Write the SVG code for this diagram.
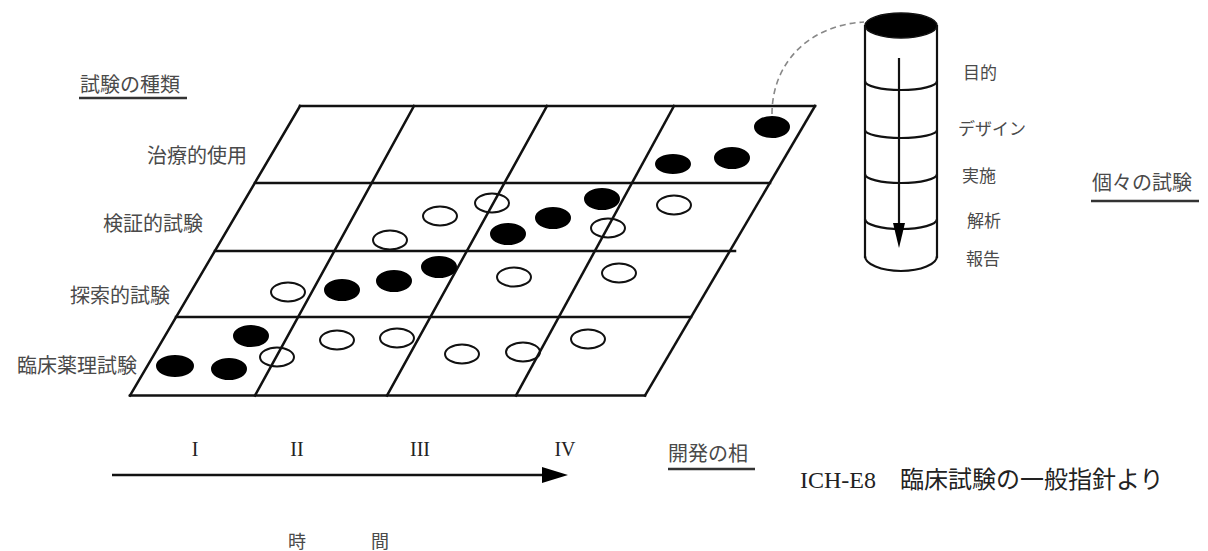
<svg xmlns="http://www.w3.org/2000/svg" width="1208" height="551" viewBox="0 0 1208 551">
<defs>
<style>
.jp{font-family:"Noto Sans CJK JP","Noto Sans CJK SC",sans-serif;fill:#4a4a4a;}
.lbl{font-size:20px;}
.small{font-size:17px;}
.ser{font-family:"Liberation Serif",serif;fill:#222;}
.grid{stroke:#111;stroke-width:2.5;fill:none;stroke-linecap:square;}
.ul{stroke:#333;stroke-width:2.5;}
.f{fill:#000;stroke:#000;stroke-width:2;}
.o{fill:none;stroke:#111;stroke-width:2;}
.cyl{stroke:#111;stroke-width:2.2;fill:none;}
</style>
</defs>
<rect width="1208" height="551" fill="#fff"/>

<g id="grid">
<line class="grid" x1="300" y1="106" x2="815" y2="106"/>
<line class="grid" x1="255" y1="183" x2="770" y2="183"/>
<line class="grid" x1="215" y1="251" x2="735" y2="251"/>
<line class="grid" x1="176" y1="317" x2="691" y2="317"/>
<line class="grid" x1="130" y1="395.5" x2="645" y2="395.5"/>
<line class="grid" x1="300" y1="106" x2="130" y2="395.5"/>
<line class="grid" x1="414" y1="106" x2="255" y2="395.5"/>
<line class="grid" x1="547" y1="106" x2="387" y2="395.5"/>
<line class="grid" x1="674" y1="106" x2="516" y2="395.5"/>
<line class="grid" x1="815" y1="106" x2="645" y2="395.5"/>
</g>

<g id="trials">
<ellipse class="f" cx="772" cy="127" rx="17" ry="10"/>
<ellipse class="f" cx="732" cy="158" rx="17" ry="10"/>
<ellipse class="f" cx="673" cy="164" rx="17" ry="9"/>
<ellipse class="f" cx="508" cy="234" rx="17" ry="10"/>
<ellipse class="f" cx="553" cy="218" rx="17" ry="10"/>
<ellipse class="f" cx="602" cy="199" rx="17" ry="10"/>
<ellipse class="f" cx="342" cy="290" rx="17" ry="10"/>
<ellipse class="f" cx="394" cy="281" rx="17" ry="10"/>
<ellipse class="f" cx="439" cy="267" rx="17" ry="10"/>
<ellipse class="f" cx="175" cy="366" rx="18" ry="10"/>
<ellipse class="f" cx="229" cy="369" rx="17" ry="10"/>
<ellipse class="f" cx="251" cy="336" rx="17" ry="10"/>
<ellipse class="o" cx="440" cy="216" rx="17" ry="9.5"/>
<ellipse class="o" cx="390" cy="240" rx="17" ry="9.5"/>
<ellipse class="o" cx="492" cy="203" rx="17" ry="9.5"/>
<ellipse class="o" cx="608" cy="228" rx="17" ry="9.5"/>
<ellipse class="o" cx="674" cy="205" rx="17" ry="9.5"/>
<ellipse class="o" cx="288" cy="292" rx="17" ry="9.5"/>
<ellipse class="o" cx="514" cy="277" rx="17" ry="9.5"/>
<ellipse class="o" cx="619" cy="273" rx="17" ry="9.5"/>
<ellipse class="o" cx="277" cy="357" rx="17" ry="9.5"/>
<ellipse class="o" cx="337" cy="340" rx="17" ry="9.5"/>
<ellipse class="o" cx="397" cy="338" rx="17" ry="9.5"/>
<ellipse class="o" cx="462" cy="354" rx="17" ry="9.5"/>
<ellipse class="o" cx="523" cy="352" rx="17" ry="9.5"/>
<ellipse class="o" cx="588" cy="339" rx="17" ry="9.5"/>
</g>

<g id="connectors">
<path d="M772,114 C772,62 810,25 864,22" fill="none" stroke="#888" stroke-width="1.6" stroke-dasharray="6 4"/>
<line x1="112" y1="475" x2="546" y2="475" stroke="#111" stroke-width="2.5"/>
<polygon points="542,467 568,475 542,483" fill="#000"/>
</g>

<g id="cylinder">
<line class="cyl" x1="865" y1="25" x2="865" y2="258"/>
<line class="cyl" x1="937" y1="25" x2="937" y2="258"/>
<path class="cyl" d="M865,81 A36,9 0 0 0 937,81"/>
<path class="cyl" d="M865,130 A36,8 0 0 0 937,130"/>
<path class="cyl" d="M865,174 A36,9 0 0 0 937,174"/>
<path class="cyl" d="M865,219 A36,10 0 0 0 937,219"/>
<path class="cyl" d="M865,256 A36,15 0 0 0 937,256"/>
<ellipse cx="901" cy="25.5" rx="36" ry="12.5" fill="#000" stroke="#111" stroke-width="1.5"/>
<line x1="899" y1="58" x2="899" y2="226" stroke="#111" stroke-width="2.2"/>
<polygon points="893,223 905,223 899,248" fill="#000"/>
</g>

<g id="cylinder-labels">
<text class="jp small" x="963" y="78.5">目的</text>
<text class="jp small" x="958" y="134.5">デザイン</text>
<text class="jp small" x="962" y="181.5">実施</text>
<text class="jp small" x="967" y="226.5">解析</text>
<text class="jp small" x="966" y="264.5">報告</text>
</g>

<g id="title-types">
<text class="jp lbl" x="80" y="92">試験の種類</text>
<line class="ul" x1="79" y1="98" x2="187" y2="98"/>
</g>

<g id="row-labels">
<text class="jp lbl" x="247" y="162.5" text-anchor="end">治療的使用</text>
<text class="jp lbl" x="203" y="230.5" text-anchor="end">検証的試験</text>
<text class="jp lbl" x="170" y="302.5" text-anchor="end">探索的試験</text>
<text class="jp lbl" x="137" y="372.5" text-anchor="end">臨床薬理試験</text>
</g>

<g id="title-individual">
<text class="jp lbl" x="1092" y="189.5">個々の試験</text>
<line class="ul" x1="1091" y1="201" x2="1199" y2="201"/>
</g>

<g id="phases">
<text class="ser" font-size="20" x="195" y="456" text-anchor="middle">I</text>
<text class="ser" font-size="20" x="297" y="456" text-anchor="middle">II</text>
<text class="ser" font-size="20" x="420" y="456" text-anchor="middle">III</text>
<text class="ser" font-size="20" x="565" y="456" text-anchor="middle">IV</text>
</g>

<g id="title-phase">
<text class="jp lbl" x="668" y="460.5">開発の相</text>
<line class="ul" x1="668" y1="469" x2="755" y2="469"/>
</g>

<g id="time">
<text class="jp" font-size="18" x="297" y="548" text-anchor="middle">時</text>
<text class="jp" font-size="18" x="380" y="548" text-anchor="middle">間</text>
</g>

<g id="source">
<text x="800" y="488" font-size="24" fill="#222" font-family="'Liberation Serif','Noto Sans CJK JP',serif">ICH-E8　臨床試験の一般指針より</text>
</g>
</svg>
